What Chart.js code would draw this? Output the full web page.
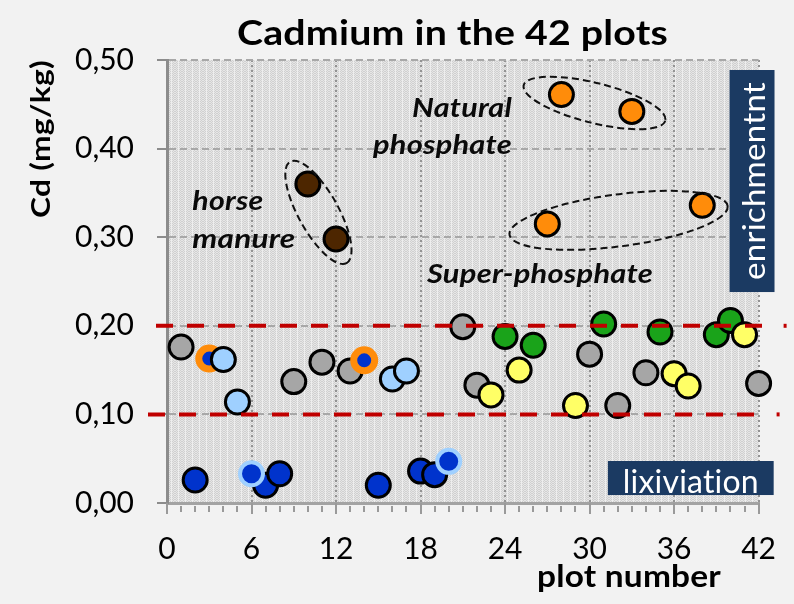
<!DOCTYPE html>
<html><head><meta charset="utf-8">
<script src="https://cdn.jsdelivr.net/npm/chart.js@4.4.0/dist/chart.umd.min.js"></script>
<style>html,body{margin:0;padding:0;background:#F2F2F2;}#wrap{width:794px;height:604px;}</style>
</head><body><div id="wrap"><canvas id="c" width="794" height="604"></canvas></div>
<script>
const FONT = "Lato, 'Liberation Sans', sans-serif";
const xTickLabels = [0, 6, 12, 18, 24, 30, 36, 42];
const yTickLabels = ['0,00', '0,10', '0,20', '0,30', '0,40', '0,50'];
const thresholds = [0.10, 0.20];

const grayPlots = [1, 9, 11, 13, 21, 22, 30, 32, 34, 42];
const grayValues = [0.176, 0.137, 0.159, 0.149, 0.199, 0.133, 0.168, 0.110, 0.147, 0.135];
const orangeRingPlots = [3, 14];
const orangeRingValues = [0.163, 0.161];
const lightBluePlots = [4, 5, 16, 17];
const lightBlueValues = [0.162, 0.114, 0.140, 0.149];
const darkBluePlots = [2, 7, 8, 15, 18, 19];
const darkBlueValues = [0.026, 0.020, 0.033, 0.020, 0.036, 0.032];
const ringBluePlots = [6, 20];
const ringBlueValues = [0.033, 0.047];
const manurePlots = [10, 12];
const manureValues = [0.360, 0.298];
const phosphatePlots = [27, 28, 33, 38];
const phosphateValues = [0.315, 0.461, 0.442, 0.336];
const greenPlots = [24, 26, 31, 35, 39, 40];
const greenValues = [0.188, 0.178, 0.202, 0.193, 0.190, 0.206];
const yellowPlots = [23, 25, 29, 36, 37, 41];
const yellowValues = [0.122, 0.150, 0.110, 0.146, 0.132, 0.190];

function pts(xs, ys) { return xs.map((x, i) => ({ x: x, y: ys[i] })); }

const groups = [
  { label: 'gray', d: pts(grayPlots, grayValues), bg: '#A6A6A6', bc: '#000000', bw: 3, r: 12 },
  { label: 'orange ring', d: pts(orangeRingPlots, orangeRingValues), bg: '#0033CC', bc: '#FF8C0A', bw: 7, r: 10.5 },
  { label: 'light blue', d: pts(lightBluePlots, lightBlueValues), bg: '#9FD0FF', bc: '#000000', bw: 3, r: 12 },
  { label: 'dark blue', d: pts(darkBluePlots, darkBlueValues), bg: '#0033CC', bc: '#000000', bw: 3, r: 12 },
  { label: 'blue ring', d: pts(ringBluePlots, ringBlueValues), bg: '#0033CC', bc: '#9FD0FF', bw: 4, r: 11.5 },
  { label: 'horse manure', d: pts(manurePlots, manureValues), bg: '#4D2600', bc: '#000000', bw: 3, r: 12 },
  { label: 'phosphate', d: pts(phosphatePlots, phosphateValues), bg: '#FF8C0A', bc: '#000000', bw: 3, r: 12 },
  { label: 'green', d: pts(greenPlots, greenValues), bg: '#1AA31A', bc: '#000000', bw: 3, r: 12 },
  { label: 'yellow', d: pts(yellowPlots, yellowValues), bg: '#FFFF66', bc: '#000000', bw: 3, r: 12 }
];
const datasets = groups.map((g, i) => ({
  label: g.label, data: g.d, backgroundColor: g.bg, borderColor: g.bc,
  borderWidth: g.bw, pointRadius: g.r, pointHoverRadius: g.r, order: groups.length - i, clip: false
}));

function fitText(ctx, text, x, y, font, width, align) {
  ctx.save();
  ctx.font = font;
  if ('letterSpacing' in ctx) ctx.letterSpacing = '0.2px';
  const w = ctx.measureText(text).width;
  ctx.translate(x, y);
  ctx.scale(width / w, 1);
  ctx.textAlign = align;
  ctx.textBaseline = 'alphabetic';
  ctx.fillText(text, 0, 0);
  ctx.restore();
}

const bgPlugin = {
  id: 'bg',
  beforeDraw(chart) {
    const { ctx, chartArea: a } = chart;
    ctx.save();
    ctx.fillStyle = '#F2F2F2';
    ctx.fillRect(0, 0, chart.width, chart.height);
    const p = document.createElement('canvas');
    p.width = 7; p.height = 2;
    const pc = p.getContext('2d');
    for (let x = 0; x < 7; x++) for (let y = 0; y < 2; y++) {
      pc.fillStyle = x === 3 ? '#eeeeee' : ((x + y) % 2 ? '#d0d0d0' : '#e6e6e6');
      pc.fillRect(x, y, 1, 1);
    }
    ctx.fillStyle = ctx.createPattern(p, 'repeat');
    ctx.fillRect(a.left, a.top, a.width, a.height);
    ctx.restore();
  }
};

const overlayPlugin = {
  id: 'overlay',
  afterDatasetsDraw(chart) {
    const { ctx, scales: { x: xs, y: ys }, chartArea: a } = chart;
    ctx.save();
    ctx.strokeStyle = '#C00000';
    ctx.lineWidth = 4;
    ctx.setLineDash([17, 14]);
    const starts = [a.left - 19, a.left - 11];
    const ends = [a.right + 6, a.right + 12];
    const dots = [a.right + 20, a.right + 27];
    thresholds.forEach((t, i) => {
      const y = ys.getPixelForValue(t);
      ctx.beginPath();
      ctx.moveTo(starts[i], y);
      ctx.lineTo(ends[i], y);
      ctx.stroke();
      ctx.beginPath();
      ctx.setLineDash([]);
      ctx.moveTo(dots[i] - 2, y);
      ctx.lineTo(dots[i] + 1, y);
      ctx.stroke();
      ctx.setLineDash([17, 14]);
    });
    ctx.restore();
  },
  afterDraw(chart) {
    const { ctx, scales: { x: xs, y: ys }, chartArea: a } = chart;
    const px = v => xs.getPixelForValue(v), py = v => ys.getPixelForValue(v);
    ctx.save();
    // x tick marks
    ctx.strokeStyle = '#9a9a9a';
    ctx.lineWidth = 2;
    for (let v = 0; v <= 42; v++) {
      const x = Math.round(px(v));
      ctx.beginPath();
      if (v % 6 === 0) { ctx.moveTo(x, a.bottom); ctx.lineTo(x, a.bottom + 11); }
      else { ctx.moveTo(x, a.bottom + 3); ctx.lineTo(x, a.bottom + 9); }
      ctx.stroke();
    }
    // ellipses
    ctx.strokeStyle = '#111';
    ctx.lineWidth = 2;
    ctx.setLineDash([7, 4]);
    const ell = (cx, cy, ra, rb, deg) => {
      ctx.beginPath();
      ctx.ellipse(px(cx), py(cy), ra, rb, deg * Math.PI / 180, 0, Math.PI * 2);
      ctx.stroke();
    };
    ell(10.75, 0.328, 58, 20, 61);
    ell(30.35, 0.4515, 73, 20, 14);
    ell(32.06, 0.319, 110, 26, -7.5);
    ctx.setLineDash([]);
    // annotation texts
    ctx.fillStyle = '#0a0a0a';
    const af = "italic bold 26px " + FONT;
    fitText(ctx, 'horse', px(1.8), py(0.3307), af, 71, 'left');
    fitText(ctx, 'manure', px(1.8), py(0.2875), af, 103, 'left');
    fitText(ctx, 'Natural', px(24.49), py(0.436), af, 100, 'right');
    fitText(ctx, 'phosphate', px(24.49), py(0.394), af, 139, 'right');
    fitText(ctx, 'Super-phosphate', px(18.46), py(0.248), af, 226, 'left');
    // navy boxes
    ctx.fillStyle = '#1B3A62';
    const bx1 = px(39.94), bx2 = px(43.13), by1 = py(0.4887), by2 = py(0.2381);
    ctx.fillRect(bx1, by1, bx2 - bx1, by2 - by1);
    const lx1 = px(31.30), lx2 = px(43.07), ly1 = py(0.0474), ly2 = py(0.0090);
    ctx.fillRect(lx1, ly1, lx2 - lx1, ly2 - ly1);
    ctx.fillStyle = '#FFFFFF';
    ctx.save();
    ctx.translate(px(42.43), py(0.3634));
    ctx.rotate(-Math.PI / 2);
    fitText(ctx, 'enrichmentnt', 0, 0, "30px " + FONT, 198, 'center');
    ctx.restore();
    fitText(ctx, 'lixiviation', px(32.36), py(0.0113), "32px " + FONT, 136, 'left');
    // titles
    ctx.fillStyle = '#000';
    fitText(ctx, 'Cadmium in the 42 plots', 452.5, 45, "bold 34px " + FONT, 431, 'center');
    ctx.save();
    ctx.translate(50, 139);
    ctx.rotate(-Math.PI / 2);
    fitText(ctx, 'Cd (mg/kg)', 0, 0, "bold 26px " + FONT, 158, 'center');
    ctx.restore();
    fitText(ctx, 'plot number', 721, 587, "bold 31px " + FONT, 184, 'right');
    ctx.restore();
  }
};

new Chart(document.getElementById('c'), {
  type: 'scatter',
  data: { datasets: datasets },
  options: {
    responsive: false, animation: false, events: [],
    layout: { padding: { left: 0, right: 35, top: 60, bottom: 0 } },
    plugins: { legend: { display: false }, tooltip: { enabled: false }, title: { display: false } },
    scales: {
      x: {
        type: 'linear', min: 0, max: 42,
        afterFit: s => { s.height = 101; },
        ticks: {
          stepSize: 1, autoSkip: false, maxRotation: 0, minRotation: 0, padding: 18,
          color: '#000', font: { family: FONT, size: 30 },
          callback: v => xTickLabels.includes(v) ? String(v) : ''
        },
        grid: {
          color: c => (c.tick && c.tick.value % 6 === 0 && c.tick.value !== 0) ? '#939393' : 'rgba(0,0,0,0)',
          lineWidth: 2, tickLength: 10, tickColor: 'rgba(0,0,0,0)'
        },
        border: { display: true, color: '#a3a3a3', width: 3, dash: [2, 3] }
      },
      y: {
        min: 0, max: 0.5,
        afterFit: s => { s.width = 167; },
        ticks: {
          stepSize: 0.1, padding: 23, color: '#000', font: { family: FONT, size: 30 },
          callback: (v, i) => yTickLabels[i]
        },
        grid: {
          color: c => (c.tick && c.tick.value > 0.001) ? '#a8a8a8' : 'rgba(0,0,0,0)',
          lineWidth: 2, tickLength: 10, tickColor: '#8c8c8c', tickWidth: 2
        },
        border: { display: true, color: '#8c8c8c', width: 3, dash: [7, 4] }
      }
    }
  },
  plugins: [bgPlugin, overlayPlugin]
});
</script>
</body></html>
